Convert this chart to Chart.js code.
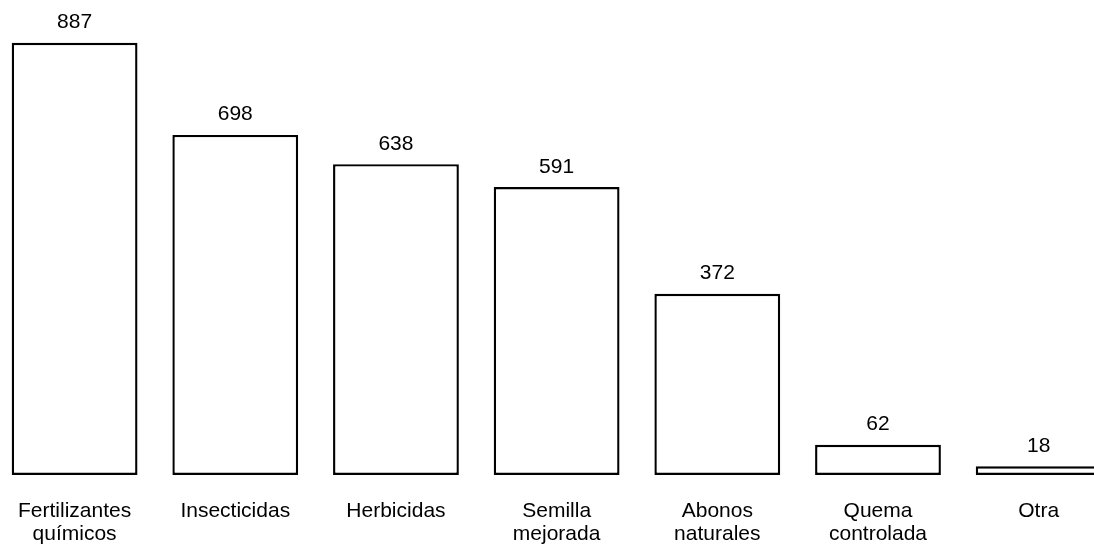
<!DOCTYPE html>
<html>
<head>
<meta charset="utf-8">
<script src="https://cdn.jsdelivr.net/npm/chart.js@4.4.0/dist/chart.umd.min.js"></script>
<style>
  html, body { margin: 0; padding: 0; background: #fff; overflow: hidden; }
  #wrap { position: relative; width: 1094px; height: 548px; overflow: hidden; }
  #c { position: absolute; left: -7px; top: 0; }
</style>
</head>
<body>
<div id="wrap"><canvas id="c" width="1126" height="548"></canvas></div>
<script>
const categories = [
  ["Fertilizantes", "químicos"],
  ["Insecticidas"],
  ["Herbicidas"],
  ["Semilla", "mejorada"],
  ["Abonos", "naturales"],
  ["Quema", "controlada"],
  ["Otra"]
];
const values = [887, 698, 638, 591, 372, 62, 18];

const FONT = "Liberation Sans, Arial, sans-serif";

const valueLabels = {
  id: 'valueLabels',
  afterDatasetsDraw(chart) {
    const ctx = chart.ctx;
    const meta = chart.getDatasetMeta(0);
    ctx.save();
    ctx.font = "21px " + FONT;
    ctx.fillStyle = "#000";
    ctx.textAlign = "center";
    ctx.textBaseline = "alphabetic";
    meta.data.forEach((bar, i) => {
      ctx.fillText(String(values[i]), bar.x, bar.y - 14.5);
    });
    ctx.restore();
  }
};

new Chart(document.getElementById('c'), {
  type: 'bar',
  data: {
    labels: categories,
    datasets: [{
      data: values,
      backgroundColor: '#ffffff',
      borderColor: '#000000',
      borderWidth: 2.4,
      borderSkipped: false,
      categoryPercentage: 1.0,
      barPercentage: 0.783
    }]
  },
  options: {
    responsive: false,
    animation: false,
    layout: { padding: 0 },
    plugins: { legend: { display: false }, tooltip: { enabled: false } },
    scales: {
      x: {
        grid: { display: false, drawTicks: false },
        border: { display: false },
        ticks: {
          color: '#000',
          font: { family: FONT, size: 21, lineHeight: 1.1 },
          padding: 25,
          maxRotation: 0,
          autoSkip: false
        },
        afterFit(scale) { scale.height = 73; }
      },
      y: {
        display: false,
        min: 0,
        max: 975
      }
    }
  },
  plugins: [valueLabels]
});
</script>
</body>
</html>
